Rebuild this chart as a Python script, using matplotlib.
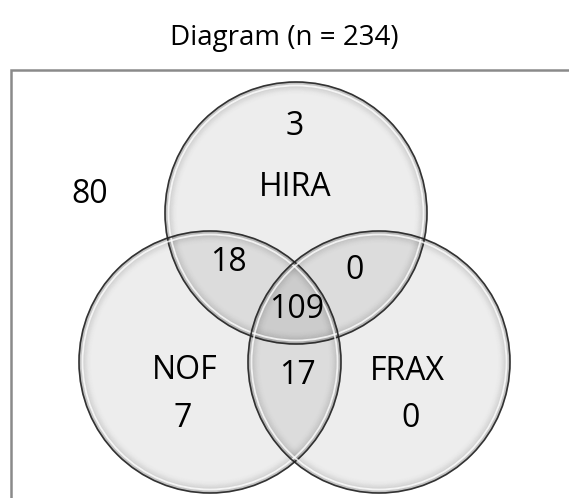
import matplotlib.pyplot as plt
from matplotlib.patches import Circle

plt.rcParams['font.family'] = ['Open Sans', 'DejaVu Sans']

# sets and region counts
set_names = ['HIRA', 'NOF', 'FRAX']
only_counts = [3, 7, 0]          # HIRA only, NOF only, FRAX only
hira_nof = 18
hira_frax = 0
nof_frax = 17
all_three = 109
outside = 80
total = 234

# layout in pixel coordinates
W, H = 569, 498
centers = [(296, 213), (210, 362), (379, 362)]
radius = 131


def glass_circle(ax, cx, cy, r):
    ax.add_patch(Circle((cx, cy), r, facecolor='black', alpha=0.07,
                        edgecolor='none', zorder=2))
    # darker rim fading inward
    for i in range(14):
        ax.add_patch(Circle((cx, cy), r - i * 0.9, fill=False,
                            edgecolor='black', lw=0.9,
                            alpha=0.16 * (1 - i / 14) ** 1.6, zorder=3))
    ax.add_patch(Circle((cx, cy), r, fill=False, edgecolor='#222222',
                        lw=1.2, alpha=0.9, zorder=4))
    ax.add_patch(Circle((cx, cy), r - 3.5, fill=False, edgecolor='white',
                        lw=1.3, alpha=0.8, zorder=4))


fig = plt.figure(figsize=(W / 100, H / 100), dpi=100)
ax = fig.add_axes([0, 0, 1, 1])
ax.set_xlim(0, W)
ax.set_ylim(H, 0)
ax.axis('off')

# frame (cut off at right and bottom)
ax.plot([11, 11, W + 5], [H + 5, 70, 70], color='#8a8a8a', lw=1.8,
        solid_joinstyle='miter', zorder=1)

for (cx, cy) in centers:
    glass_circle(ax, cx, cy, radius)

fs = 23
ax.text(284, 38, f'Diagram (n = {total})', ha='center', va='center', fontsize=20)
ax.text(90, 194, str(outside), ha='center', va='center', fontsize=fs, zorder=5)
ax.text(295, 126, str(only_counts[0]), ha='center', va='center', fontsize=fs, zorder=5)
ax.text(295, 187, set_names[0], ha='center', va='center', fontsize=fs, zorder=5)
ax.text(185, 370, set_names[1], ha='center', va='center', fontsize=fs, zorder=5)
ax.text(183, 418, str(only_counts[1]), ha='center', va='center', fontsize=fs, zorder=5)
ax.text(407, 371, set_names[2], ha='center', va='center', fontsize=fs, zorder=5)
ax.text(411, 418, str(only_counts[2]), ha='center', va='center', fontsize=fs, zorder=5)
ax.text(228, 262, str(hira_nof), ha='center', va='center', fontsize=fs, zorder=5)
ax.text(355, 270, str(hira_frax), ha='center', va='center', fontsize=fs, zorder=5)
ax.text(297, 309, str(all_three), ha='center', va='center', fontsize=fs, zorder=5)
ax.text(297, 375, str(nof_frax), ha='center', va='center', fontsize=fs, zorder=5)

fig.savefig('out.png', dpi=100)
